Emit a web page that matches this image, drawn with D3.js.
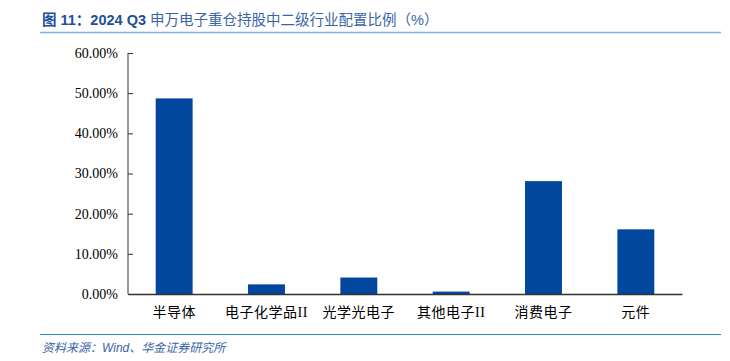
<!DOCTYPE html>
<html lang="zh">
<head>
<meta charset="UTF-8">
<title>2024 Q3 申万电子重仓持股中二级行业配置比例</title>
<script src="https://d3js.org/d3.v7.min.js"></script>
<style>
    body { margin: 0; padding: 0; background: #fff; overflow: hidden; }
</style>
</head>
<body>
<div id="chart"></div>
<script>
    // 数据
    const categories = ["半导体", "电子化学品II", "光学光电子", "其他电子II", "消费电子", "元件"];
    const shares = [48.7, 2.4, 4.1, 0.6, 28.1, 16.1];
    const yTicks = [0, 10, 20, 30, 40, 50, 60];

    const W = 730, H = 361;
    const serif = "'Liberation Serif', 'Times New Roman', 'DejaVu Serif', serif";
    const svg = d3.select("#chart").append("svg")
        .attr("width", W).attr("height", H);

    // 标题
    const title = svg.append("text")
        .attr("x", 42).attr("y", 25)
        .style("font-family", "'Liberation Sans', 'Noto Sans CJK SC', sans-serif")
        .style("font-size", "14.5px")
        .attr("fill", "#1f4f96");
    title.append("tspan").style("font-weight", "bold").text("图 11：2024 Q3 ");
    title.append("tspan").attr("fill", "#3a64a8").text("申万电子重仓持股中二级行业配置比例（%）");

    svg.append("line")
        .attr("x1", 40).attr("x2", 721).attr("y1", 32.5).attr("y2", 32.5)
        .attr("stroke", "#7fb0db").attr("stroke-width", 1.5);

    // 比例尺
    const x = d3.scaleBand().domain(categories).range([128, 682]).paddingInner(0.6).paddingOuter(0.3);
    const y = d3.scaleLinear().domain([0, 60]).range([294, 53]);

    // 柱子
    svg.selectAll(".bar")
        .data(categories)
        .enter().append("rect")
        .attr("class", "bar")
        .attr("x", d => x(d))
        .attr("width", x.bandwidth())
        .attr("y", (d, i) => y(shares[i]))
        .attr("height", (d, i) => y(0) - y(shares[i]))
        .attr("fill", "#00479d");

    // Y 轴
    const yAxis = svg.append("g")
        .attr("transform", "translate(128,0)")
        .call(d3.axisRight(y).tickValues(yTicks).tickSize(5).tickFormat(""));
    yAxis.select(".domain").attr("stroke", "#333").attr("d", "M0,53V294");
    yAxis.selectAll(".tick line").attr("stroke", "#333");
    svg.append("g").selectAll("text")
        .data(yTicks)
        .enter().append("text")
        .attr("x", 118)
        .attr("y", d => y(d))
        .attr("dy", "0.35em")
        .attr("text-anchor", "end")
        .style("font-family", serif)
        .style("font-size", "14px")
        .attr("fill", "#000")
        .text(d => d.toFixed(2) + "%");

    // X 轴
    const xAxis = svg.append("g")
        .attr("transform", "translate(0,294)")
        .call(d3.axisBottom(x).tickSize(0).tickFormat(""));
    xAxis.select(".domain").attr("stroke", "#333").attr("stroke-width", 1.5);
    svg.append("g").selectAll("text")
        .data(categories)
        .enter().append("text")
        .attr("x", d => x(d) + x.bandwidth() / 2)
        .attr("y", 317)
        .attr("text-anchor", "middle")
        .style("font-family", "'Liberation Serif', 'Noto Sans CJK SC', serif")
        .style("font-size", "14px")
        .style("letter-spacing", "0.5px")
        .attr("fill", "#000")
        .text(d => d);

    // 资料来源
    svg.append("line")
        .attr("x1", 40).attr("x2", 721).attr("y1", 334.5).attr("y2", 334.5)
        .attr("stroke", "#2f86cf").attr("stroke-width", 1.2);
    svg.append("text")
        .attr("x", 42).attr("y", 352)
        .style("font-family", "'Liberation Sans', 'Noto Sans CJK SC', sans-serif")
        .style("font-size", "12px")
        .style("font-style", "italic")
        .attr("fill", "#3a64a8")
        .text("资料来源：Wind、华金证券研究所");
</script>
</body>
</html>
